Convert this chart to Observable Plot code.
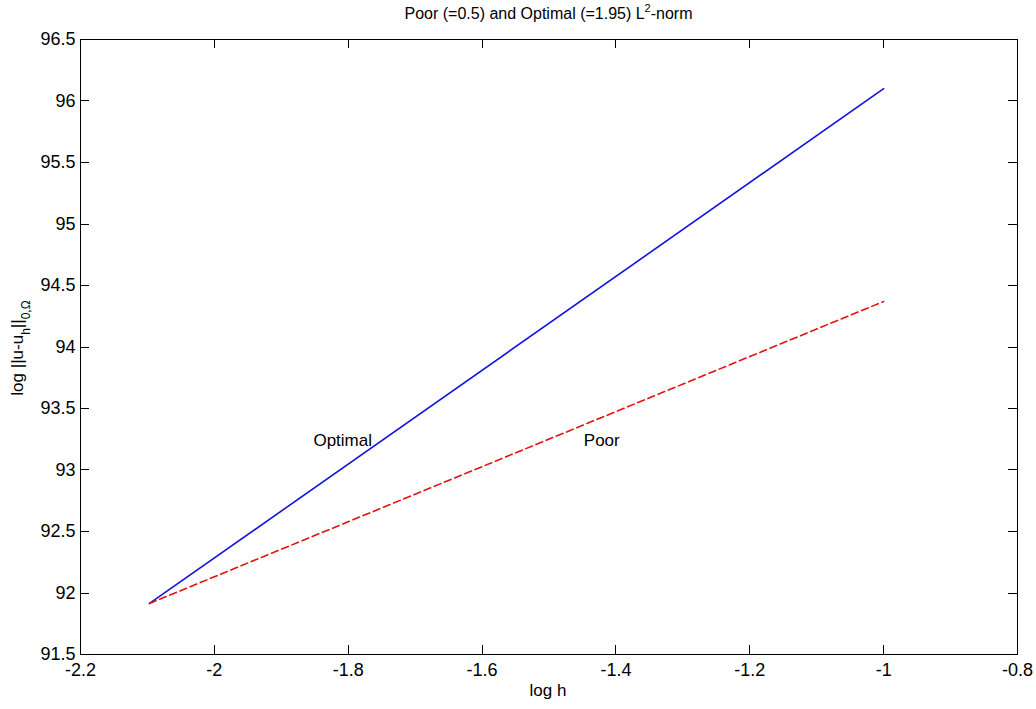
<!DOCTYPE html>
<html>
<head>
<meta charset="utf-8">
<script src="https://cdn.jsdelivr.net/npm/d3@7"></script>
<script src="https://cdn.jsdelivr.net/npm/@observablehq/plot@0.6"></script>
<style>
  body { margin: 0; background: #fff; font-family: "Liberation Sans", Arial, sans-serif; }
  #wrap { position: relative; width: 1036px; height: 709px; }
  #title { position: absolute; left: 80px; width: 937px; top: 5px; text-align: center; font-size: 16px; color: #000; }
  #title sup { font-size: 11px; vertical-align: 7px; line-height: 0; }
  #chart { position: absolute; left: 0; top: 30px; }
</style>
</head>
<body>
<div id="wrap">
  <div id="title">Poor (=0.5) and Optimal (=1.95) L<sup>2</sup>-norm</div>
  <div id="chart"></div>
</div>
<script>
const logH = [-2.0969, -1.0];
const optimal = [91.915, 96.10];
const poor = [91.915, 94.37];
const labels = [
  {name: "Optimal", x: -1.852, y: 93.24},
  {name: "Poor", x: -1.448, y: 93.24}
];
const xTicks = [-2.2, -2, -1.8, -1.6, -1.4, -1.2, -1, -0.8];
const yTicks = [91.5, 92, 92.5, 93, 93.5, 94, 94.5, 95, 95.5, 96, 96.5];
const xDomain = [-2.2, -0.8];
const yDomain = [91.5, 96.5];

const optData = logH.map((x, i) => ({x, y: optimal[i]}));
const poorData = logH.map((x, i) => ({x, y: poor[i]}));
const fmt = d => String(+d.toFixed(1));

const W = 1036, H = 679, mT = 9, mB = 55, mL = 80, mR = 19, TL = 9;

const plot = Plot.plot({
  width: W,
  height: H,
  marginTop: mT,
  marginBottom: mB,
  marginLeft: mL,
  marginRight: mR,
  style: {fontFamily: "Liberation Sans, Arial, sans-serif", fontSize: "18px", color: "#000", background: "#fff"},
  x: {domain: xDomain},
  y: {domain: yDomain},
  marks: [
    Plot.frame({stroke: "#000", strokeWidth: 1}),
    Plot.axisX({anchor: "bottom", ticks: xTicks, tickSize: 0, tickPadding: 9, tickFormat: fmt, label: null, fontSize: 18}),
    Plot.axisY({anchor: "left", ticks: yTicks, tickSize: 0, tickPadding: 5, tickFormat: fmt, label: null, fontSize: 18}),
    Plot.line(optData, {x: "x", y: "y", stroke: "#1212e0", strokeWidth: 1.6}),
    Plot.line(poorData, {x: "x", y: "y", stroke: "#e51010", strokeWidth: 1.6, strokeDasharray: "7,4"}),
    Plot.text(labels, {x: "x", y: "y", text: "name", textAnchor: "start", fontSize: 17, fill: "#000"})
  ]
});
document.getElementById("chart").appendChild(plot);

const ns = "http://www.w3.org/2000/svg";
const svg = plot.tagName.toLowerCase() === "svg" ? plot : plot.querySelector("svg");

// inward tick marks on all four sides, positioned with the plot's own scales
const sx = plot.scale("x"), sy = plot.scale("y");
const tg = d3.select(svg).append("g").attr("stroke", "#000").attr("stroke-width", 1);
const frameTop = mT, frameBottom = H - mB, frameLeft = mL, frameRight = W - mR;
xTicks.forEach(v => {
  const px = Math.round(sx.apply(v)) + 0.5;
  tg.append("line").attr("x1", px).attr("x2", px).attr("y1", frameBottom).attr("y2", frameBottom - TL);
  tg.append("line").attr("x1", px).attr("x2", px).attr("y1", frameTop).attr("y2", frameTop + TL);
});
yTicks.forEach(v => {
  const py = Math.round(sy.apply(v)) + 0.5;
  tg.append("line").attr("y1", py).attr("y2", py).attr("x1", frameLeft).attr("x2", frameLeft + TL);
  tg.append("line").attr("y1", py).attr("y2", py).attr("x1", frameRight).attr("x2", frameRight - TL);
});

// axis labels with subscripts
const xl = document.createElementNS(ns, "text");
xl.setAttribute("x", 548);
xl.setAttribute("y", 666);
xl.setAttribute("text-anchor", "middle");
xl.setAttribute("font-size", "17");
xl.setAttribute("fill", "#000");
xl.textContent = "log h";
svg.appendChild(xl);

const yl = document.createElementNS(ns, "text");
yl.setAttribute("transform", "translate(23,318) rotate(-90)");
yl.setAttribute("text-anchor", "middle");
yl.setAttribute("font-size", "17");
yl.setAttribute("fill", "#000");
const t1 = document.createElementNS(ns, "tspan");
t1.textContent = "log ||u-u";
const t2 = document.createElementNS(ns, "tspan");
t2.setAttribute("baseline-shift", "sub");
t2.setAttribute("font-size", "12");
t2.textContent = "h";
const t3 = document.createElementNS(ns, "tspan");
t3.textContent = "||";
const t4 = document.createElementNS(ns, "tspan");
t4.setAttribute("baseline-shift", "sub");
t4.setAttribute("font-size", "12");
t4.textContent = "0,Ω";
yl.appendChild(t1); yl.appendChild(t2); yl.appendChild(t3); yl.appendChild(t4);
svg.appendChild(yl);
</script>
</body>
</html>
